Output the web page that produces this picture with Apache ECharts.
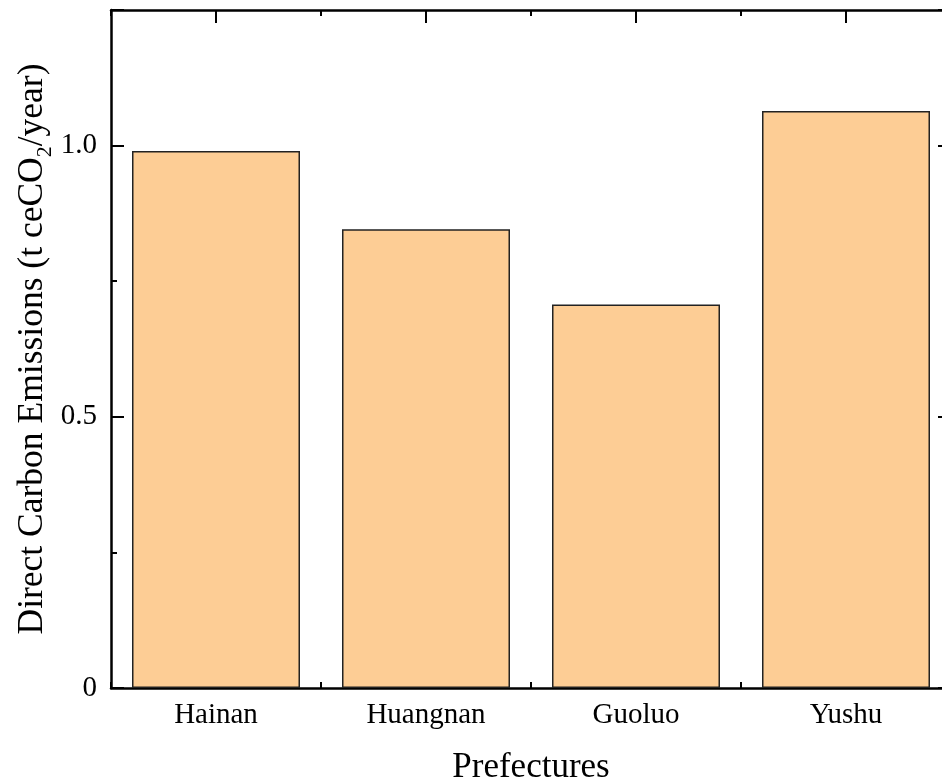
<!DOCTYPE html>
<html>
<head>
<meta charset="utf-8">
<script src="https://cdn.jsdelivr.net/npm/echarts@6/dist/echarts.min.js"></script>
<style>
  html, body { margin: 0; padding: 0; background: #fff; }
  #chart { width: 942px; height: 784px; }
</style>
</head>
<body>
<div id="chart"></div>
<script>
const prefectures = ['Hainan', 'Huangnan', 'Guoluo', 'Yushu'];
const emissions = [0.990, 0.846, 0.707, 1.064];
const yTicks = [0, 0.5, 1.0];

const font = '"Liberation Serif", "Times New Roman", serif';
const ink = '#000';

function tickLabel(v) {
  if (v === 0) return '0';
  return yTicks.indexOf(v) >= 0 ? v.toFixed(1) : '';
}

function catAxis(position, centre, withLabel) {
  return {
    type: 'category',
    data: prefectures,
    position: position,
    boundaryGap: true,
    axisLine: { show: centre, onZero: false, lineStyle: { color: ink, width: 2.5 } },
    axisTick: {
      show: true, inside: true, alignWithLabel: centre,
      length: centre ? 13 : 6,
      lineStyle: { color: ink, width: 2 }
    },
    axisLabel: withLabel
      ? { show: true, margin: 13, color: ink, fontFamily: font, fontSize: 29 }
      : { show: false },
    splitLine: { show: false }
  };
}

function valAxis(position, withLabel) {
  return {
    type: 'value',
    position: position,
    min: 0,
    max: 1.25,
    interval: 0.5,
    axisLine: { show: true, onZero: false, lineStyle: { color: ink, width: 2.5 } },
    axisTick: { show: true, inside: true, length: 13, lineStyle: { color: ink, width: 2 } },
    minorTick: { show: true, splitNumber: 2, length: 6, lineStyle: { color: ink, width: 2 } },
    axisLabel: withLabel
      ? { show: true, margin: 14, color: ink, fontFamily: font, fontSize: 29, formatter: tickLabel }
      : { show: false },
    splitLine: { show: false },
    minorSplitLine: { show: false }
  };
}

const chart = echarts.init(document.getElementById('chart'), null, { renderer: 'canvas' });

const xBottom = catAxis('bottom', true, true);
xBottom.name = 'Prefectures';
xBottom.nameLocation = 'middle';
xBottom.nameGap = 62;
xBottom.nameMoveOverlap = false;
xBottom.nameTextStyle = { color: ink, fontFamily: font, fontSize: 35 };

const yLeft = valAxis('left', true);
yLeft.name = 'Direct Carbon Emissions (t ceCO{sub|2}/year)';
yLeft.nameLocation = 'middle';
yLeft.nameRotate = 90;
yLeft.nameGap = 55;
yLeft.nameMoveOverlap = false;
yLeft.nameTextStyle = {
  color: ink, fontFamily: font, fontSize: 35.5, lineHeight: 46,
  rich: {
    sub: { color: ink, fontFamily: font, fontSize: 22, lineHeight: 22, verticalAlign: 'bottom' }
  }
};

chart.setOption({
  animation: false,
  backgroundColor: '#fff',
  grid: { left: 111, right: -9, top: 10, bottom: 96, containLabel: false, outerBoundsMode: 'none' },
  xAxis: [
    xBottom,
    catAxis('bottom', false, false),
    catAxis('top', true, false),
    catAxis('top', false, false)
  ],
  yAxis: [yLeft, valAxis('right', false)],
  series: [{
    type: 'bar',
    xAxisIndex: 0,
    yAxisIndex: 0,
    data: emissions,
    barWidth: '80%',
    itemStyle: { color: '#FDCD95', borderColor: '#222', borderWidth: 1.5 },
    emphasis: { disabled: true }
  }]
});
</script>
</body>
</html>
